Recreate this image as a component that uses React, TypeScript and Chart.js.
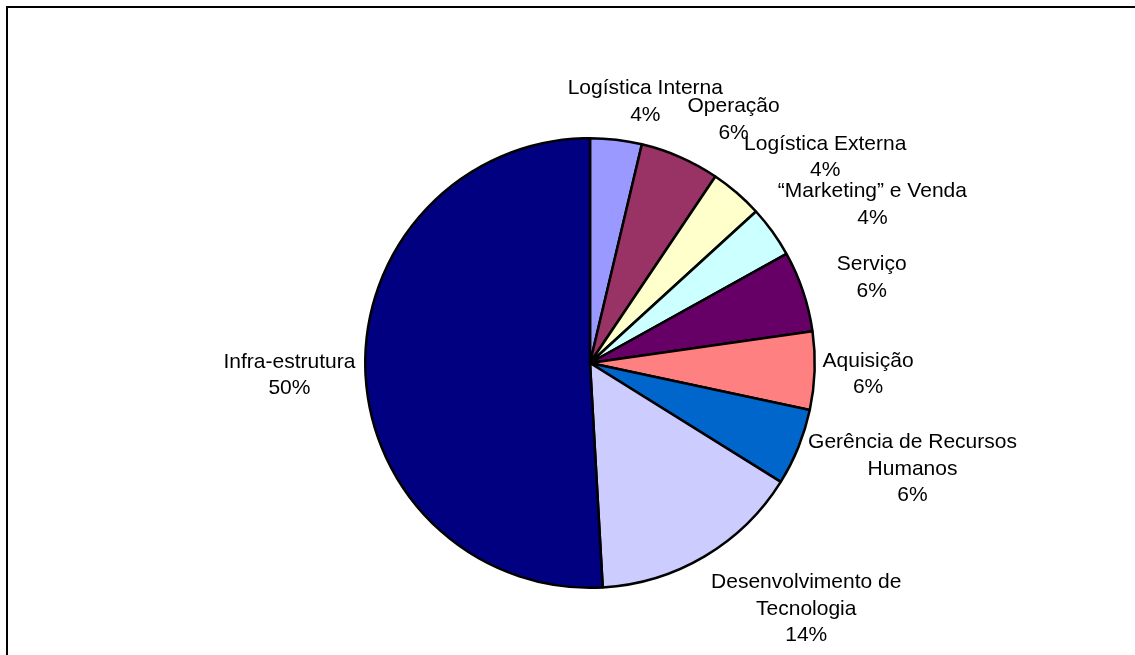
import React, { useEffect, useRef } from "react";
import { Chart, registerables } from "chart.js";

Chart.register(...registerables);

const categories = [
  "Logística Interna",
  "Operação",
  "Logística Externa",
  "“Marketing” e Venda",
  "Serviço",
  "Aquisição",
  "Gerência de Recursos Humanos",
  "Desenvolvimento de Tecnologia",
  "Infra-estrutura",
];

const labelLines = [
  ["Logística Interna"],
  ["Operação"],
  ["Logística Externa"],
  ["“Marketing” e Venda"],
  ["Serviço"],
  ["Aquisição"],
  ["Gerência de Recursos", "Humanos"],
  ["Desenvolvimento de", "Tecnologia"],
  ["Infra-estrutura"],
];

const values = [3.7, 5.7, 3.8, 3.7, 5.8, 5.6, 5.5, 15.2, 50.8];

const percentLabels = ["4%", "6%", "4%", "4%", "6%", "6%", "6%", "14%", "50%"];

const sliceColors = [
  "#9999FF",
  "#993366",
  "#FFFFCC",
  "#CCFFFF",
  "#660066",
  "#FF8080",
  "#0066CC",
  "#CCCCFF",
  "#000080",
];

// Layout tweaks of the outside labels (Excel nudges them away from each other)
const labelNudges: [number, number][] = [
  [19, -2],
  [31, -4],
  [29, -8],
  [15, -6],
  [26, -2],
  [-2, 2],
  [8, 3],
  [48, 10],
  [0, 5],
];

const FONT = '21px "Liberation Sans", Arial, sans-serif';
const LINE_H = 26.5;
const GAP = 10;

const framePlugin = {
  id: "frame",
  beforeDraw(chart: any) {
    const ctx = chart.ctx;
    ctx.save();
    ctx.fillStyle = "#ffffff";
    ctx.fillRect(0, 0, chart.width, chart.height);
    ctx.strokeStyle = "#000000";
    ctx.lineWidth = 2;
    ctx.strokeRect(7, 7, chart.width + 20, chart.height + 20);
    ctx.restore();
  },
};

const outsideLabels = {
  id: "outsideLabels",
  afterDatasetsDraw(chart: any) {
    const ctx = chart.ctx;
    const meta = chart.getDatasetMeta(0);
    ctx.save();
    ctx.font = FONT;
    ctx.fillStyle = "#000000";
    ctx.textAlign = "center";
    ctx.textBaseline = "middle";
    meta.data.forEach((arc: any, i: number) => {
      const p = arc.getProps(["x", "y", "startAngle", "endAngle", "outerRadius"], true);
      const mid = (p.startAngle + p.endAngle) / 2;
      const c = Math.cos(mid);
      const s = Math.sin(mid);
      const lines = [...labelLines[i], percentLabels[i]];
      let w = 0;
      lines.forEach((l) => {
        w = Math.max(w, ctx.measureText(l).width);
      });
      const h = lines.length * LINE_H;
      const ax = p.x + (p.outerRadius + GAP) * c;
      const ay = p.y + (p.outerRadius + GAP) * s;
      const cx = ax + (c * w) / 2 + labelNudges[i][0];
      const cy = ay + (s * h) / 2 + labelNudges[i][1];
      lines.forEach((l, k) => {
        ctx.fillText(l, cx, cy - h / 2 + LINE_H / 2 + k * LINE_H);
      });
    });
    ctx.restore();
  },
};

export default function App() {
  const ref = useRef<HTMLCanvasElement | null>(null);

  useEffect(() => {
    if (!ref.current) return;
    const chart = new Chart(ref.current, {
      type: "pie",
      data: {
        labels: categories,
        datasets: [
          {
            data: values,
            backgroundColor: sliceColors,
            borderColor: "#000000",
            borderWidth: 2.5,
          },
        ],
      },
      options: {
        responsive: false,
        animation: false,
        devicePixelRatio: 1,
        layout: { padding: { left: 364, right: 319, top: 137, bottom: 66 } },
        plugins: {
          legend: { display: false },
          tooltip: { enabled: false },
        },
      },
      plugins: [framePlugin, outsideLabels],
    });
    return () => chart.destroy();
  }, []);

  return (
    <div style={{ position: "absolute", left: 0, top: 0, width: 1135, height: 655 }}>
      <canvas ref={ref} width={1135} height={655} style={{ display: "block" }} />
    </div>
  );
}
